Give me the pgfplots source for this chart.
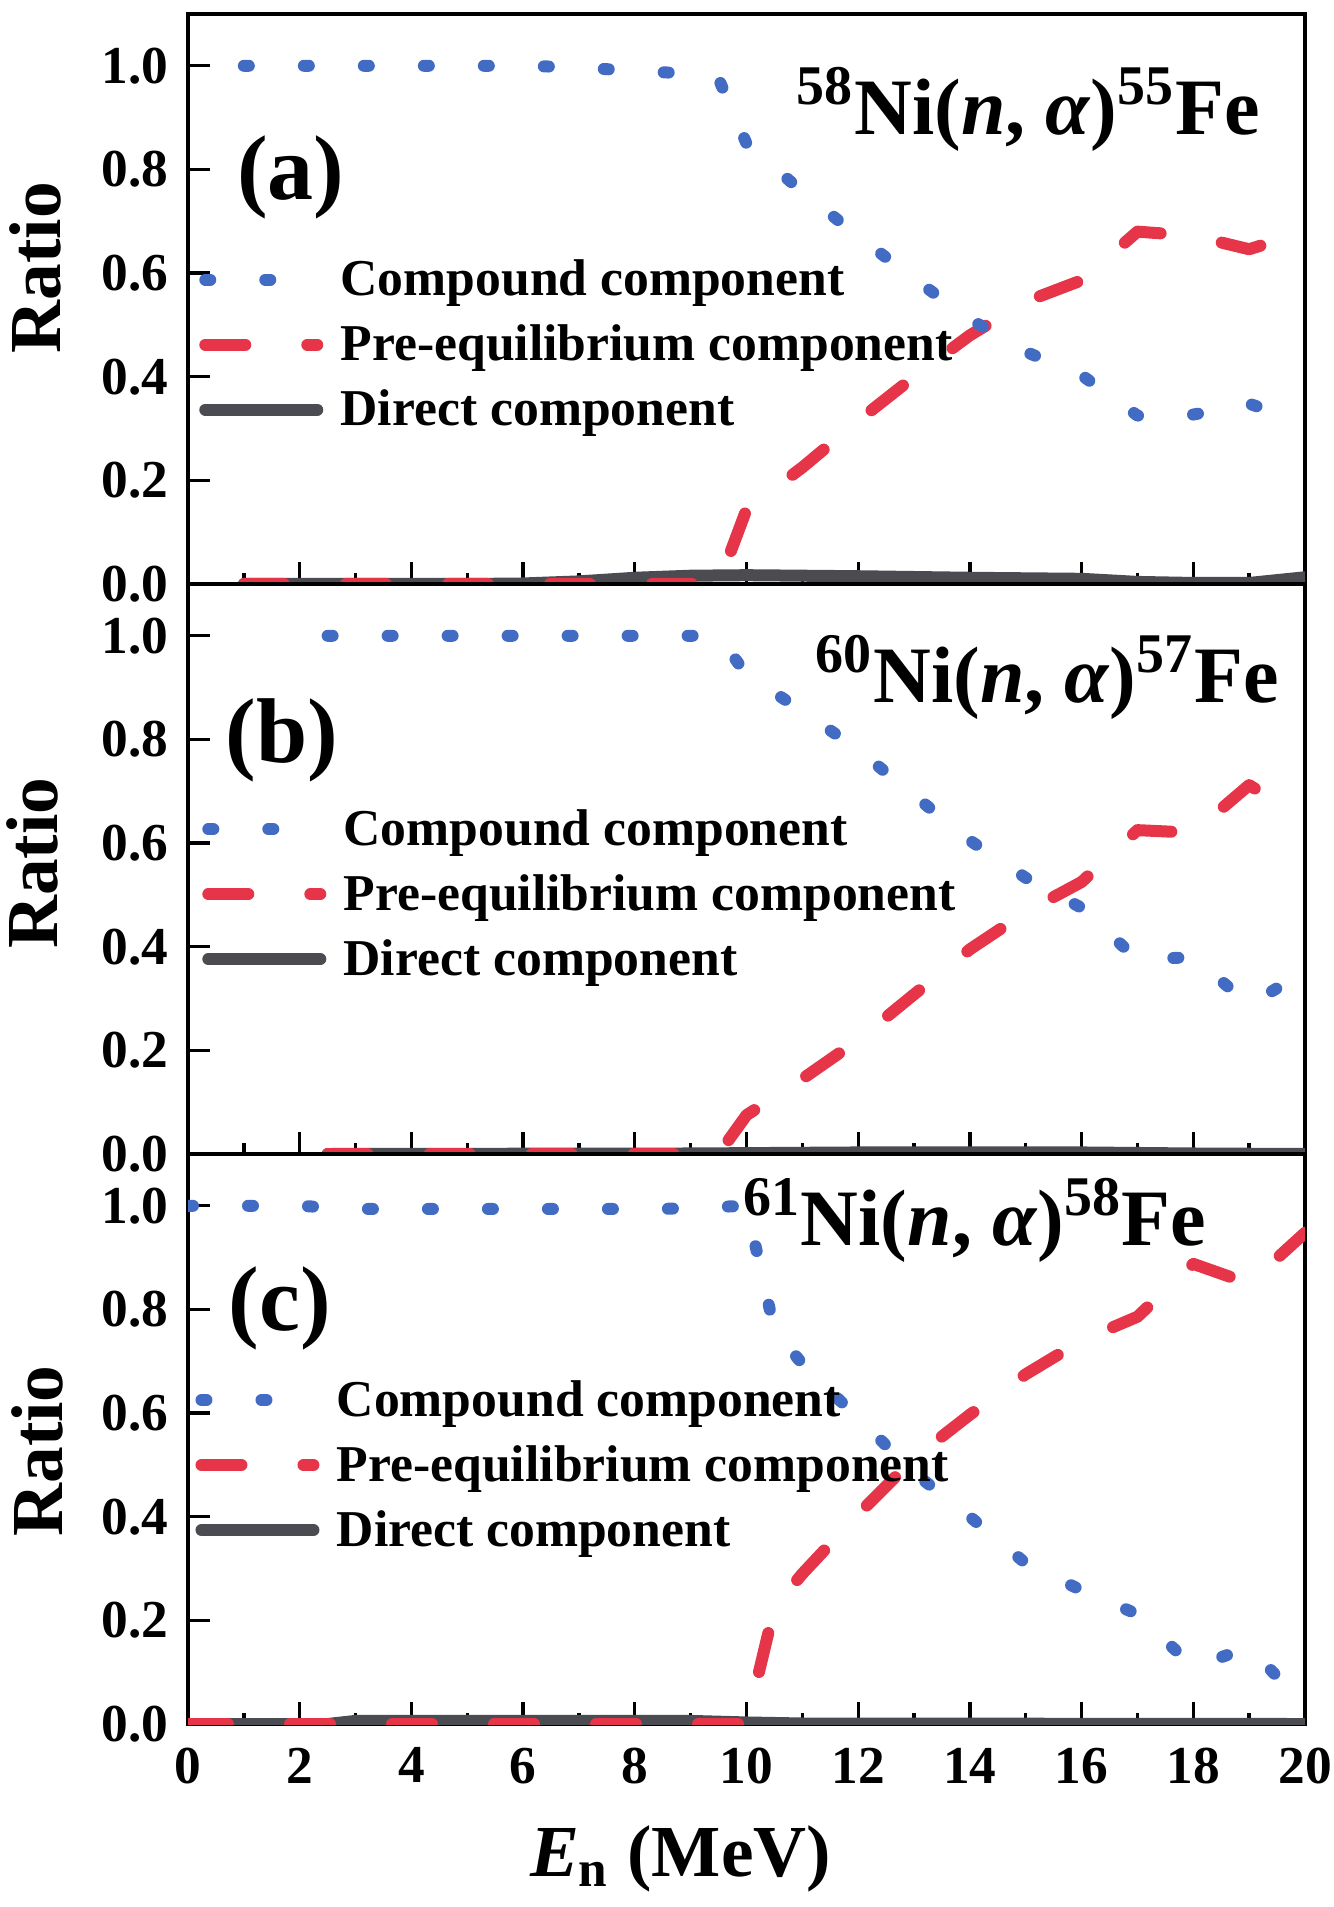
\documentclass[border=0pt]{standalone}
\usepackage{fontspec}
\setmainfont{Liberation Serif}
\usepackage{pgfplots}
\usepackage{pgfplotstable}
\pgfplotsset{compat=1.18}
\definecolor{cblue}{RGB}{66,107,196}
\definecolor{cred}{RGB}{230,52,72}
\definecolor{cgrey}{RGB}{75,75,82}

% ---------- panel (a): 58Ni(n,alpha)55Fe ----------
\pgfplotstableread{
x y
1 1.0
2 1.0
3 1.0
4 1.0
5 1.0
6 1.0
7 0.997
8 0.99
9 0.985
9.5 0.975
10 0.85
11 0.757
12 0.671
13 0.589
14 0.511
15 0.448
16 0.403
17 0.325
18 0.327
19 0.348
20 0.31
}\compa
\pgfplotstableread{
x y
1 0
9.5 0
10 0.144
11 0.225
12 0.315
13 0.40
14 0.48
15 0.545
16 0.586
17 0.68
18 0.672
19 0.646
20 0.68
}\prea
\pgfplotstableread{
x y
1 0.0
5 0.0
6 0.001
7 0.005
8 0.012
9 0.016
10 0.017
12 0.015
14 0.012
16 0.010
17 0.004
18 0.002
19 0.002
20 0.013
}\dira

% ---------- panel (b): 60Ni(n,alpha)57Fe ----------
\pgfplotstableread{
x y
2.5 1.0
9.5 1.0
10 0.925
11 0.855
12 0.78
13 0.692
14 0.605
15 0.533
16 0.475
17 0.375
18 0.38
19 0.288
20 0.352
}\compb
\pgfplotstableread{
x y
2.5 0
9.5 0
10 0.075
11 0.145
12 0.22
13 0.308
14 0.395
15 0.467
16 0.525
17 0.625
18 0.62
19 0.712
20 0.645
}\preb
\pgfplotstableread{
x y
2.5 0.0
9 0.001
12 0.003
16 0.003
18 0.001
20 0.0
}\dirb

% ---------- panel (c): 61Ni(n,alpha)58Fe ----------
\pgfplotstableread{
x y
0 1.0
2 1.0
3 0.994
8.5 0.994
9.5 0.998
10 1.0
10.5 0.76
11 0.695
12 0.59
13 0.485
14 0.40
15 0.31
16 0.258
17 0.212
18 0.11
19 0.148
20 0.035
}\compc
\pgfplotstableread{
x y
0 0
10 0.0
10.5 0.225
11 0.29
12 0.405
13 0.513
14 0.597
15 0.675
16 0.74
17 0.786
18 0.888
19 0.85
20 0.948
}\prec
\pgfplotstableread{
x y
0 0.0
2.5 0.0
3 0.006
9 0.006
10 0.003
11 0.001
20 0.0
}\dirc

\pgfplotsset{
  panel/.style={
    scale only axis, width=335.1pt, height=171pt,
    xmin=0, xmax=20, ymin=0, ymax=1.1,
    xtick={0,2,...,20}, minor xtick={1,3,...,19},
    ytick={0,0.2,0.4,0.6,0.8,1.0},
    tick align=inside, xtick pos=bottom, ytick pos=left,
    major tick length=6.6pt, minor tick length=3.3pt,
    every tick/.append style={black, line width=1pt},
    axis line style={line width=1.2pt},
    /pgf/number format/assume math mode=true,
    ticklabel style={font=\fontsize{16}{16}\selectfont\bfseries},
    yticklabel style={/pgf/number format/fixed, /pgf/number format/fixed zerofill,
                      /pgf/number format/precision=1, xshift=-2.4pt},
    xticklabel style={yshift=-3.6pt},
    ylabel={Ratio},
    ylabel style={font=\fontsize{22}{22}\selectfont\bfseries, anchor=center},
    legend cell align=left,
    reverse legend,
    legend image code/.code={\draw[#1] (0pt,0pt) -- (33.6pt,0pt);},
    legend style={anchor=north west, draw=none, fill=none, inner sep=0pt, outer sep=0pt,
      row sep=5.1pt, font=\fontsize{15.5}{15.5}\selectfont\bfseries,
      nodes={inner sep=0pt, text height=12pt, text depth=2.4pt},
      /tikz/every odd column/.append style={column sep=5.2pt}},
  },
  comp/.style={cblue, line width=3.6pt, line cap=round, line join=round, dash pattern=on 1.5pt off 16.5pt},
  preq/.style={cred, line width=3.6pt, line cap=round, line join=round, dash pattern=on 12pt off 18.6pt},
  dire/.style={cgrey, line width=3.6pt, line cap=round, line join=round},
}

\newcommand{\reac}{\fontsize{24}{24}\selectfont\bfseries}
\newcommand{\plab}{\fontsize{27.6}{27.6}\selectfont\bfseries}

\begin{document}
\begin{tikzpicture}
\path[use as bounding box] (0pt,0pt) rectangle (400.2pt,-572.1pt);

% (a)
\begin{axis}[panel, at={(56.4pt,-4.2pt)}, anchor=north west,
  xticklabels={},
  ylabel style={at={(rel axis cs:-0.137,0.555)}},
  legend style={at={(0.0101,0.576)}}]
\addplot[dire] table {\dira};
\addlegendentry{Direct component}
\addplot[preq] table {\prea};
\addlegendentry{Pre-equilibrium component}
\addplot[comp] table {\compa};
\addlegendentry{Compound component}
\node[anchor=base east, inner sep=0pt, font=\reac] at (rel axis cs:0.96,0.788)
  {\textsuperscript{58}Ni(\textit{n}, \textit{α})\textsuperscript{55}Fe};
\node[inner sep=0pt, font=\plab] at (rel axis cs:0.092,0.713) {(a)};
\end{axis}

% (b)
\begin{axis}[panel, at={(56.4pt,-175.2pt)}, anchor=north west,
  xticklabels={},
  ylabel style={at={(rel axis cs:-0.139,0.51)}},
  legend style={at={(0.0128,0.612)}}]
\addplot[dire] table {\dirb};
\addlegendentry{Direct component}
\addplot[preq] table {\preb};
\addlegendentry{Pre-equilibrium component}
\addplot[comp] table {\compb};
\addlegendentry{Compound component}
\node[anchor=base east, inner sep=0pt, font=\reac] at (rel axis cs:0.977,0.792)
  {\textsuperscript{60}Ni(\textit{n}, \textit{α})\textsuperscript{57}Fe};
\node[inner sep=0pt, font=\plab] at (rel axis cs:0.084,0.725) {(b)};
\end{axis}

% (c)
\begin{axis}[panel, at={(56.4pt,-346.2pt)}, anchor=north west,
  ylabel style={at={(rel axis cs:-0.135,0.479)}},
  xlabel={\textit{E}\textsubscript{n} (MeV)},
  xlabel style={font=\fontsize{22}{22}\selectfont\bfseries, at={(rel axis cs:0.441,-0.2667)}, anchor=base},
  legend style={at={(0.0067,0.6105)}}]
\addplot[dire] table {\dirc};
\addlegendentry{Direct component}
\addplot[preq] table {\prec};
\addlegendentry{Pre-equilibrium component}
\addplot[comp] table {\compc};
\addlegendentry{Compound component}
\node[anchor=base east, inner sep=0pt, font=\reac] at (rel axis cs:0.912,0.84)
  {\textsuperscript{61}Ni(\textit{n}, \textit{α})\textsuperscript{58}Fe};
\node[inner sep=0pt, font=\plab] at (rel axis cs:0.082,0.73) {(c)};
\end{axis}
\end{tikzpicture}
\end{document}
